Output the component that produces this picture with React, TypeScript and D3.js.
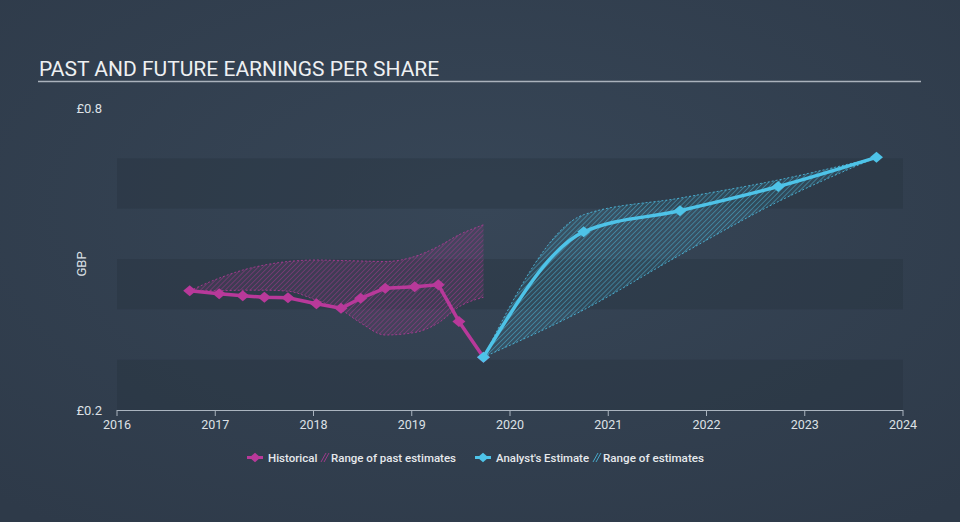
import React from "react";
import * as d3 from "d3";

const histYears = [2016.74, 2017.04, 2017.28, 2017.5, 2017.74, 2018.03, 2018.28, 2018.48, 2018.73, 2019.03, 2019.27, 2019.48, 2019.73];
const histEPS = [0.437, 0.431, 0.427, 0.424, 0.423, 0.411, 0.402, 0.422, 0.442, 0.445, 0.449, 0.376, 0.305];

const pastRangeYears = [2016.74, 2017.04, 2017.28, 2017.5, 2017.74, 2018.03, 2018.28, 2018.48, 2018.73, 2019.03, 2019.27, 2019.48, 2019.73];
const pastRangeLow = [0.437, 0.437, 0.438, 0.438, 0.436, 0.418, 0.399, 0.373, 0.349, 0.354, 0.373, 0.405, 0.424];
const pastRangeHigh = [0.437, 0.462, 0.478, 0.488, 0.495, 0.498, 0.497, 0.496, 0.495, 0.505, 0.525, 0.548, 0.568];

const estYears = [2019.73, 2020.75, 2021.73, 2022.73, 2023.73];
const estEPS = [0.305, 0.554, 0.596, 0.644, 0.702];
const estLow = [0.305, 0.399, 0.508, 0.614, 0.702];
const estHigh = [0.305, 0.588, 0.621, 0.657, 0.702];

const xTicks = [2016, 2017, 2018, 2019, 2020, 2021, 2022, 2023, 2024];
const yTicks = [0.2, 0.8];
const bands = [[0.2, 0.3], [0.4, 0.5], [0.6, 0.7]];

const MAGENTA = "#b8399a";
const CYAN = "#4ec3e8";

export default function App() {
  const W = 960, H = 522;
  const x = d3.scaleLinear().domain([2016, 2024]).range([117, 903]);
  const y = d3.scaleLinear().domain([0.2, 0.8]).range([410, 108]);

  const line = d3.line<[number, number]>().x(d => x(d[0])).y(d => y(d[1])).curve(d3.curveMonotoneX);
  const area = d3.area<[number, number, number]>().x(d => x(d[0])).y0(d => y(d[1])).y1(d => y(d[2])).curve(d3.curveMonotoneX);

  const hist = histYears.map((t, i) => [t, histEPS[i]] as [number, number]);
  const histLine = d3.line<[number, number]>().x(d => x(d[0])).y(d => y(d[1])).curve(d3.curveLinear);
  const past = pastRangeYears.map((t, i) => [t, pastRangeLow[i], pastRangeHigh[i]] as [number, number, number]);
  const est = estYears.map((t, i) => [t, estEPS[i]] as [number, number]);
  const estR = estYears.map((t, i) => [t, estLow[i], estHigh[i]] as [number, number, number]);
  const lowLine = (arr: [number, number, number][]) => line(arr.map(d => [d[0], d[1]] as [number, number]));
  const highLine = (arr: [number, number, number][]) => line(arr.map(d => [d[0], d[2]] as [number, number]));

  const diamond = (cx: number, cy: number, r: number) => `M${cx - r},${cy}L${cx},${cy - r * 0.85}L${cx + r},${cy}L${cx},${cy + r * 0.85}Z`;
  const font = "Roboto, 'Noto Sans', sans-serif";

  return (
    <svg width={W} height={H} style={{ position: "absolute", left: 0, top: 0, display: "block" }}>
      <defs>
        <radialGradient id="bg" cx="50%" cy="40%" r="75%">
          <stop offset="0%" stopColor="#374657" />
          <stop offset="100%" stopColor="#2e3a49" />
        </radialGradient>
        <pattern id="hatchM" patternUnits="userSpaceOnUse" width="3.5" height="3.5" patternTransform="rotate(45)">
          <rect width="3.5" height="3.5" fill={MAGENTA} fillOpacity="0.12" />
          <line x1="0" y1="0" x2="0" y2="3.5" stroke={MAGENTA} strokeWidth="1.1" strokeOpacity="0.7" />
        </pattern>
        <pattern id="hatchC" patternUnits="userSpaceOnUse" width="3.5" height="3.5" patternTransform="rotate(45)">
          <rect width="3.5" height="3.5" fill={CYAN} fillOpacity="0.1" />
          <line x1="0" y1="0" x2="0" y2="3.5" stroke={CYAN} strokeWidth="1.1" strokeOpacity="0.75" />
        </pattern>
      </defs>
      <rect width={W} height={H} fill="url(#bg)" />
      {bands.map((b, i) => (
        <rect key={i} x={x(2016)} width={x(2024) - x(2016)} y={y(b[1])} height={y(b[0]) - y(b[1])} fill="#26313d" fillOpacity="0.35" />
      ))}
      <text x={39} y={76} fill="#eef0f2" fontSize={21} fontFamily={font}>PAST AND FUTURE EARNINGS PER SHARE</text>
      <line x1={38} x2={921} y1={81.5} y2={81.5} stroke="#aab2bc" strokeWidth={1.5} />

      {yTicks.map(v => (
        <text key={v} x={102} y={y(v) + 4.5} textAnchor="end" fill="#dde1e6" fontSize={13} fontFamily={font}>£{v}</text>
      ))}
      <text transform={`translate(86,${264}) rotate(-90)`} textAnchor="middle" fill="#dde1e6" fontSize={13} fontFamily={font}>GBP</text>

      <line x1={x(2016)} x2={x(2024)} y1={410.5} y2={410.5} stroke="#aab4bf" strokeWidth={1} />
      {xTicks.map(t => (
        <g key={t}>
          <line x1={x(t)} x2={x(t)} y1={410} y2={416} stroke="#aab4bf" strokeWidth={1} />
          <text x={x(t)} y={429} textAnchor="middle" fill="#dde1e6" fontSize={12.5} fontFamily={font}>{t}</text>
        </g>
      ))}

      <path d={area(past) || ""} fill="url(#hatchM)" />
      <path d={highLine(past) || ""} fill="none" stroke={MAGENTA} strokeWidth={1} strokeDasharray="2,2" strokeOpacity={0.8} />
      <path d={lowLine(past) || ""} fill="none" stroke={MAGENTA} strokeWidth={1} strokeDasharray="2,2" strokeOpacity={0.8} />

      <path d={area(estR) || ""} fill="url(#hatchC)" />
      <path d={highLine(estR) || ""} fill="none" stroke={CYAN} strokeWidth={1} strokeDasharray="2,2" strokeOpacity={0.8} />
      <path d={lowLine(estR) || ""} fill="none" stroke={CYAN} strokeWidth={1} strokeDasharray="2,2" strokeOpacity={0.8} />

      <path d={histLine(hist) || ""} fill="none" stroke={MAGENTA} strokeWidth={3.5} strokeLinejoin="round" />
      {hist.map((d, i) => (
        <path key={i} d={diamond(x(d[0]), y(d[1]), 6.5)} fill={MAGENTA} />
      ))}

      <path d={line(est) || ""} fill="none" stroke={CYAN} strokeWidth={3.5} strokeLinejoin="round" />
      {est.map((d, i) => (
        <path key={i} d={diamond(x(d[0]), y(d[1]), 6.5)} fill={CYAN} />
      ))}

      <g fontFamily={font} fontSize={11.5} fill="#e6e9ec" fontWeight={500}>
        <line x1={247} x2={263} y1={457.5} y2={457.5} stroke={MAGENTA} strokeWidth={3} />
        <path d={diamond(255, 457.5, 5.5)} fill={MAGENTA} />
        <text x={268} y={461.5}>Historical</text>
        <path d="M321,462 L326,453 M324,462 L329,453" stroke={MAGENTA} strokeWidth={1} strokeOpacity={0.8} />
        <text x={331} y={461.5} textLength={125} lengthAdjust="spacingAndGlyphs">Range of past estimates</text>
        <line x1={475} x2={491} y1={457.5} y2={457.5} stroke={CYAN} strokeWidth={3} />
        <path d={diamond(483, 457.5, 5.5)} fill={CYAN} />
        <text x={496} y={461.5} textLength={93} lengthAdjust="spacingAndGlyphs">Analyst's Estimate</text>
        <path d="M593,462 L598,453 M596,462 L601,453" stroke={CYAN} strokeWidth={1} strokeOpacity={0.8} />
        <text x={603} y={461.5} textLength={101} lengthAdjust="spacingAndGlyphs">Range of estimates</text>
      </g>
    </svg>
  );
}
